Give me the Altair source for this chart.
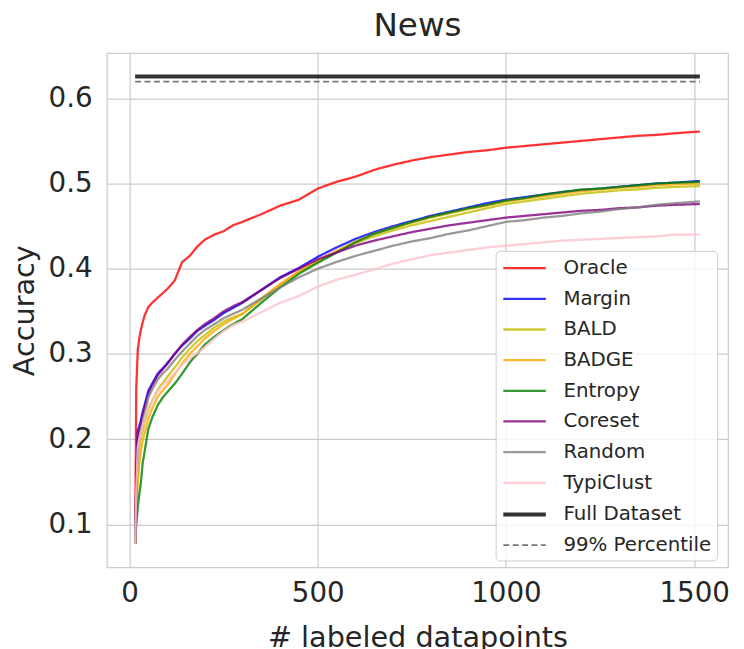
import altair as alt
import pandas as pd

methods = ["Oracle", "Margin", "BALD", "BADGE", "Entropy", "Coreset", "Random",
           "TypiClust", "Full Dataset", "99% Percentile"]
colors = ["#ff0000", "#0000ff", "#bfbf00", "#ffa500", "#008000", "#800080",
          "#808080", "#ffc0cb", "#000000", "#555555"]
dashes = [[1, 0]] * 9 + [[6, 3.5]]
widths = [2.3, 2.3, 2.3, 2.3, 2.3, 2.3, 2.3, 2.3, 4, 1.6]

xs = [15, 18, 22, 26, 30, 35, 40, 50, 60, 75, 90, 100, 120, 140, 160, 180, 200,
      225, 250, 275, 300, 350, 400, 450, 500, 550, 600, 650, 700, 750, 800, 850,
      900, 950, 1000, 1050, 1100, 1150, 1200, 1250, 1300, 1350, 1400, 1450, 1515]

oracle = [0.077, 0.26, 0.305, 0.318, 0.328, 0.337, 0.345, 0.355, 0.36, 0.366, 0.372,
          0.376, 0.386, 0.408, 0.415, 0.426, 0.434, 0.44, 0.444, 0.451, 0.455, 0.464,
          0.474, 0.481, 0.494, 0.502, 0.508, 0.516, 0.522, 0.527, 0.531, 0.534, 0.537,
          0.539, 0.542, 0.544, 0.546, 0.548, 0.55, 0.552, 0.554, 0.556, 0.557, 0.559, 0.561]
margin = [0.077, 0.15, 0.21, 0.215, 0.222, 0.232, 0.24, 0.257, 0.265, 0.277, 0.284,
          0.289, 0.3, 0.31, 0.318, 0.327, 0.333, 0.34, 0.348, 0.354, 0.36, 0.375, 0.39,
          0.401, 0.414, 0.425, 0.435, 0.443, 0.45, 0.456, 0.462, 0.467, 0.472, 0.477,
          0.481, 0.484, 0.487, 0.49, 0.492, 0.494, 0.496, 0.498, 0.5, 0.501, 0.503]
bald = [0.077, 0.12, 0.17, 0.19, 0.2, 0.21, 0.22, 0.235, 0.245, 0.258, 0.267, 0.273,
        0.284, 0.296, 0.306, 0.315, 0.322, 0.331, 0.338, 0.343, 0.347, 0.364, 0.381,
        0.396, 0.408, 0.419, 0.43, 0.438, 0.445, 0.451, 0.456, 0.461, 0.466, 0.471,
        0.476, 0.479, 0.482, 0.485, 0.488, 0.49, 0.492, 0.493, 0.495, 0.496, 0.497]
badge = [0.077, 0.11, 0.15, 0.17, 0.185, 0.198, 0.207, 0.224, 0.236, 0.25, 0.258,
         0.263, 0.276, 0.289, 0.3, 0.309, 0.318, 0.327, 0.335, 0.341, 0.347, 0.365,
         0.382, 0.397, 0.41, 0.421, 0.432, 0.441, 0.448, 0.454, 0.46, 0.465, 0.47,
         0.474, 0.479, 0.482, 0.485, 0.488, 0.491, 0.493, 0.495, 0.496, 0.498, 0.499, 0.5]
entropy = [0.077, 0.10, 0.12, 0.135, 0.148, 0.172, 0.185, 0.212, 0.225, 0.24, 0.25,
           0.255, 0.265, 0.277, 0.29, 0.3, 0.311, 0.32, 0.328, 0.335, 0.341, 0.36,
           0.378, 0.394, 0.407, 0.419, 0.431, 0.441, 0.448, 0.455, 0.461, 0.466, 0.471,
           0.475, 0.48, 0.483, 0.487, 0.49, 0.493, 0.494, 0.496, 0.498, 0.5, 0.501, 0.502]
coreset = [0.077, 0.14, 0.2, 0.21, 0.218, 0.228, 0.237, 0.253, 0.263, 0.275, 0.283,
           0.288, 0.3, 0.311, 0.32, 0.328, 0.335, 0.342, 0.35, 0.356, 0.361, 0.375,
           0.389, 0.4, 0.411, 0.419, 0.427, 0.433, 0.438, 0.443, 0.447, 0.451, 0.454,
           0.457, 0.46, 0.462, 0.464, 0.466, 0.468, 0.469, 0.471, 0.472, 0.474, 0.475, 0.476]
random_ = [0.077, 0.13, 0.19, 0.202, 0.21, 0.22, 0.23, 0.249, 0.258, 0.27, 0.278,
           0.282, 0.293, 0.303, 0.312, 0.321, 0.328, 0.335, 0.342, 0.347, 0.352, 0.365,
           0.378, 0.39, 0.4, 0.408, 0.415, 0.421, 0.427, 0.432, 0.436, 0.441, 0.445,
           0.45, 0.455, 0.457, 0.46, 0.462, 0.465, 0.467, 0.47, 0.472, 0.475, 0.477, 0.479]
typiclust = [0.077, 0.14, 0.19, 0.2, 0.207, 0.216, 0.225, 0.238, 0.245, 0.256, 0.264,
             0.268, 0.278, 0.287, 0.295, 0.301, 0.308, 0.318, 0.327, 0.334, 0.338, 0.349,
             0.36, 0.368, 0.379, 0.387, 0.393, 0.399, 0.406, 0.411, 0.416, 0.419, 0.422,
             0.425, 0.427, 0.429, 0.431, 0.433, 0.434, 0.435, 0.436, 0.437, 0.438, 0.44, 0.44]

ref_x = [15, 1515]
full_dataset = [0.6256, 0.6256]
percentile99 = [0.6195, 0.6195]

series = [("Oracle", xs, oracle), ("Margin", xs, margin), ("BALD", xs, bald),
          ("BADGE", xs, badge), ("Entropy", xs, entropy), ("Coreset", xs, coreset),
          ("Random", xs, random_), ("TypiClust", xs, typiclust),
          ("Full Dataset", ref_x, full_dataset), ("99% Percentile", ref_x, percentile99)]

rows = []
for order, (name, sx, sy) in enumerate(series):
    for i, (a, b) in enumerate(zip(sx, sy)):
        rows.append({"method": name, "x": a, "y": b, "o": order, "i": i})
df = pd.DataFrame(rows)

FONT = "DejaVu Sans"
TXT = "#262626"

legend = alt.Legend(
    title=None, orient="none", legendX=393, legendY=200,
    symbolType="M-1,0H3", symbolSize=462, labelFontSize=20, labelFont=FONT,
    labelColor=TXT, padding=5.5, rowPadding=9, labelOffset=37,
    labelExpr="datum.label + '\u00a0'",
    strokeColor="#cccccc", cornerRadius=4, fillColor="rgba(255,255,255,0.8)",
)

chart = alt.Chart(df).mark_line(opacity=0.8, clip=True).encode(
    x=alt.X("x:Q", scale=alt.Scale(domain=[-60, 1590], nice=False, zero=False),
            axis=alt.Axis(values=[0, 500, 1000, 1500], format="d",
                          title="# labeled datapoints",
                          titleY=57, titleBaseline="top", labelPadding=13)),
    y=alt.Y("y:Q", scale=alt.Scale(domain=[0.0496, 0.6531], nice=False, zero=False),
            axis=alt.Axis(values=[0.1, 0.2, 0.3, 0.4, 0.5, 0.6], format=".1f",
                          title="Accuracy", titleX=-74, titleBaseline="alphabetic",
                          labelPadding=15)),
    color=alt.Color("method:N", scale=alt.Scale(domain=methods, range=colors), legend=legend),
    strokeDash=alt.StrokeDash("method:N", scale=alt.Scale(domain=methods, range=dashes), legend=legend),
    strokeWidth=alt.StrokeWidth("method:N", scale=alt.Scale(type="ordinal", domain=methods, range=widths), legend=legend),
    detail="o:O",
    order="i:Q",
).properties(
    width=628, height=520,
    title=alt.TitleParams("News", fontSize=33, font=FONT, color=TXT, fontWeight="normal",
                          baseline="bottom", offset=-23, frame="group"),
    autosize=alt.AutoSizeParams(type="none"),
    padding={"left": 100, "top": 42, "right": 8, "bottom": 79},
).configure_view(
    stroke="#cccccc", strokeWidth=1.25
).configure_axis(
    grid=True, gridColor="#cccccc", gridWidth=1.25, domain=False, ticks=False,
    labelFont=FONT, labelFontSize=28, labelColor=TXT,
    titleFont=FONT, titleFontSize=29, titleColor=TXT, titleFontWeight="normal",
)

chart.save("out.html", embed_options={"renderer": "svg", "actions": False})
